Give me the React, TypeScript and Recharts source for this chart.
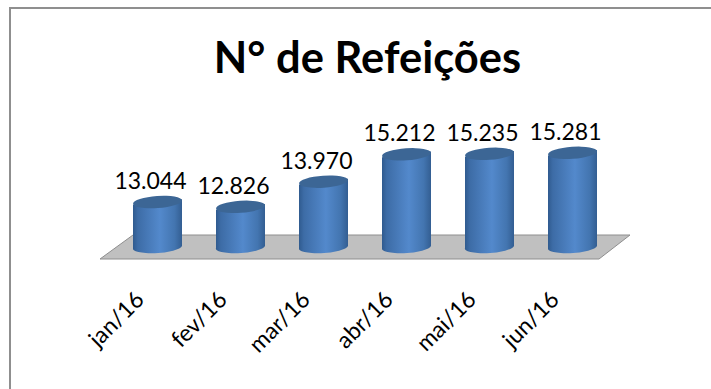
import React from "react";
import { BarChart, Bar, XAxis, YAxis, LabelList, ReferenceArea } from "recharts";

const months = ["jan/16", "fev/16", "mar/16", "abr/16", "mai/16", "jun/16"];
const meals = [13044, 12826, 13970, 15212, 15235, 15281];
const mealLabels = ["13.044", "12.826", "13.970", "15.212", "15.235", "15.281"];

const chartData = months.map((month, i) => ({ month, meals: meals[i], label: mealLabels[i] }));

const FONT = "Lato, 'Noto Sans', sans-serif";
const Y_MIN = 11000;
const Y_MAX = 15500;

const Floor = (props: any) => {
  const { x, y, width, height } = props;
  const base = y + height;
  const right = x + width;
  const points = `${x - 16},${base + 12} ${x + 17},${base - 12} ${right + 16},${base - 12} ${right - 15},${base + 12}`;
  return <polygon points={points} fill="#c0c0c0" stroke="#8e8e8e" strokeWidth={1} />;
};

const Cylinder = (props: any) => {
  const { x, y, width, height } = props;
  const rx = width / 2;
  const ry = 6;
  const tilt = 2.8;
  const bottom = y + height;
  const side =
    `M${x},${y + tilt} L${x + width},${y - tilt} L${x + width},${bottom - 1} ` +
    `A${rx},${ry} -4 0 1 ${x},${bottom + 1} Z`;
  return (
    <g>
      <path d={side} fill="url(#cylinderSide)" />
      <ellipse
        cx={x + rx}
        cy={y}
        rx={rx}
        ry={ry}
        fill="#3c6695"
        transform={`rotate(-4 ${x + rx} ${y})`}
      />
    </g>
  );
};

const ValueLabel = (props: any) => {
  const { x, y, width, index } = props;
  return (
    <text
      x={x + width / 2 - 7}
      y={y - 13}
      textAnchor="middle"
      fontFamily={FONT}
      fontSize={23}
      fill="#000"
    >
      {mealLabels[index]}
    </text>
  );
};

const MonthTick = (props: any) => {
  const { x, y, payload } = props;
  return (
    <text
      x={x - 12}
      y={y + 46}
      textAnchor="end"
      fontFamily={FONT}
      fontSize={23}
      fill="#000"
      transform={`rotate(-45 ${x - 12} ${y + 46})`}
    >
      {payload.value}
    </text>
  );
};

export default function App() {
  return (
    <div style={{ position: "absolute", left: 0, top: 0, width: 711, height: 389, background: "#fff" }}>
      <div
        style={{
          position: "absolute",
          left: 9,
          top: 7,
          right: 0,
          bottom: 0,
          borderLeft: "2px solid #8f8f8f",
          borderTop: "2px solid #8f8f8f",
        }}
      />
      <div
        style={{
          position: "absolute",
          left: 0,
          width: 735,
          top: 31,
          textAlign: "center",
          fontFamily: FONT,
          fontWeight: 700,
          fontSize: 43.5,
          lineHeight: "50px",
          color: "#000",
        }}
      >
        N° de Refeições
      </div>
      <div style={{ position: "absolute", left: 0, top: 0 }}>
        <BarChart
          width={711}
          height={389}
          data={chartData}
          margin={{ top: 148, right: 97, bottom: 82, left: 116 }}
          barSize={49}
        >
          <defs>
            <linearGradient id="cylinderSide" x1="0" y1="0" x2="1" y2="0">
              <stop offset="0%" stopColor="#2f5a8e" />
              <stop offset="10%" stopColor="#3d6ca6" />
              <stop offset="55%" stopColor="#5389cc" />
              <stop offset="85%" stopColor="#4375b0" />
              <stop offset="100%" stopColor="#335e92" />
            </linearGradient>
          </defs>
          <XAxis dataKey="month" axisLine={false} tickLine={false} height={60} tick={<MonthTick />} interval={0} />
          <YAxis hide domain={[Y_MIN, Y_MAX]} />
          <ReferenceArea y1={Y_MIN} y2={Y_MAX} shape={<Floor />} />
          <Bar dataKey="meals" shape={<Cylinder />} isAnimationActive={false}>
            <LabelList dataKey="label" content={<ValueLabel />} />
          </Bar>
        </BarChart>
      </div>
    </div>
  );
}
